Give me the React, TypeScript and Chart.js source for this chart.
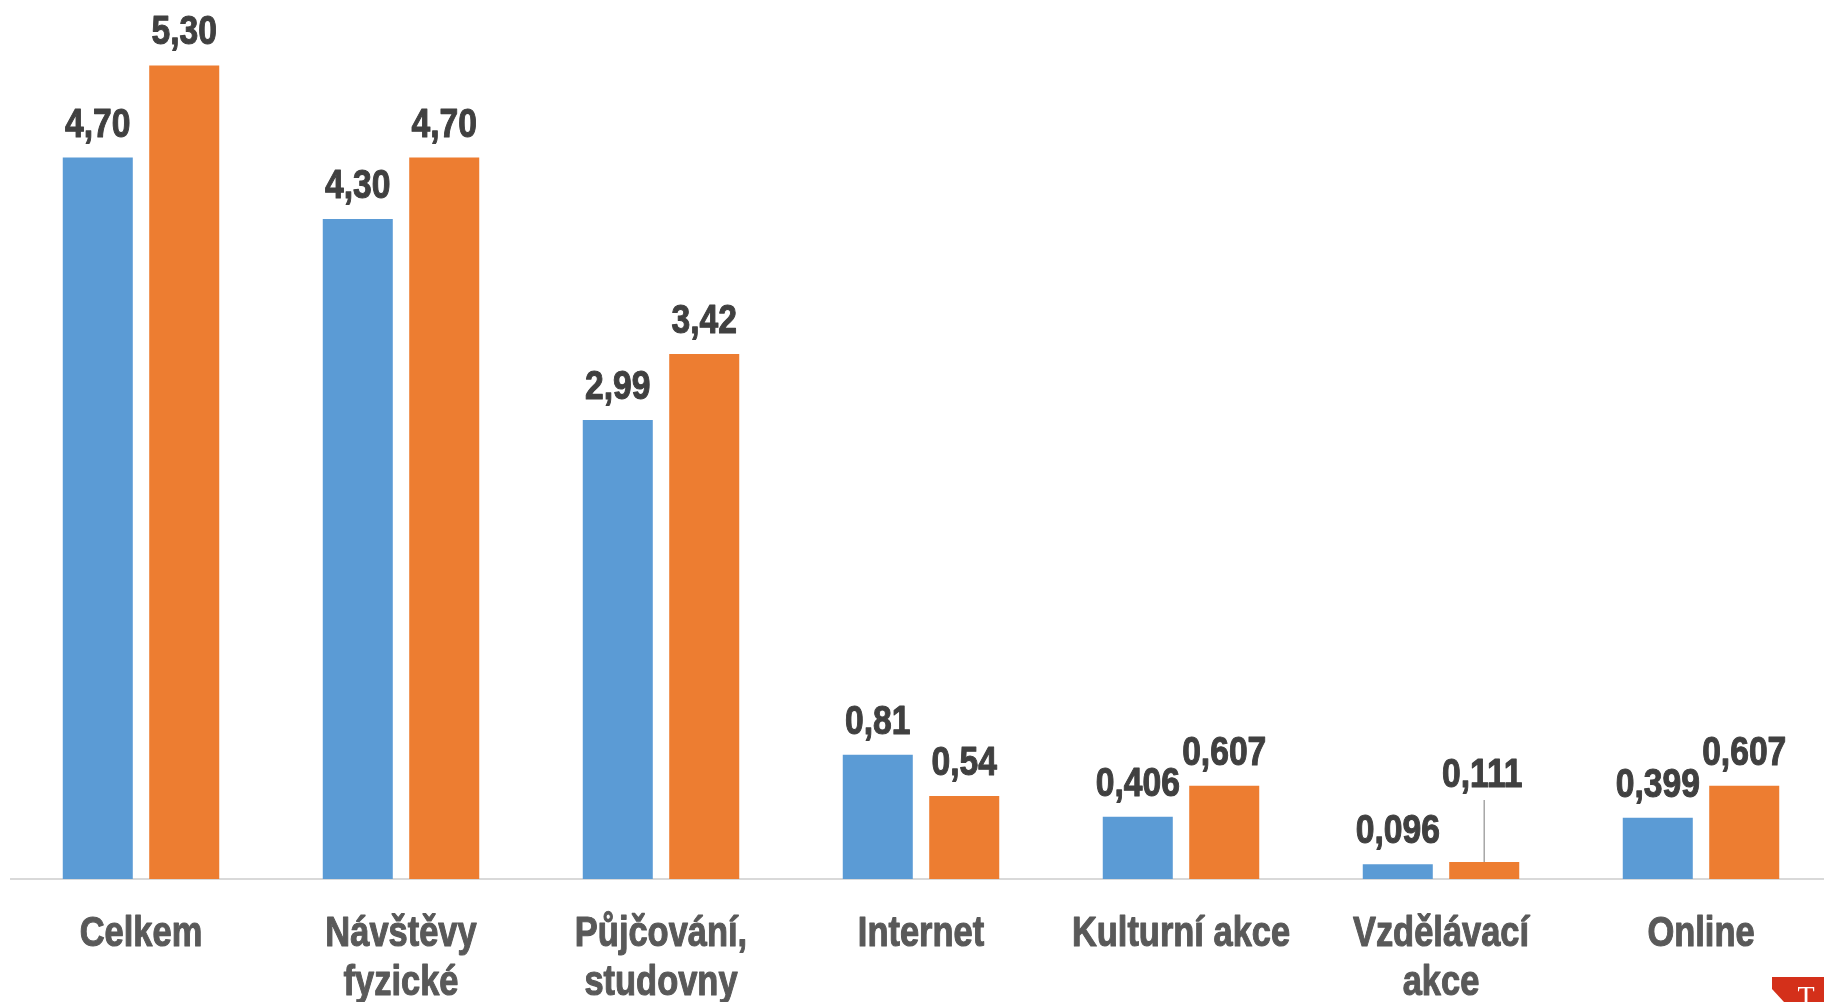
import React, { useEffect, useRef } from "react";
import { Chart, registerables } from "chart.js";

Chart.register(...registerables);

// ---- data ----
const categories: string[][] = [
  ["Celkem"],
  ["Návštěvy", "fyzické"],
  ["Půjčování,", "studovny"],
  ["Internet"],
  ["Kulturní akce"],
  ["Vzdělávací", "akce"],
  ["Online"],
];
const seriesA = [4.7, 4.3, 2.99, 0.81, 0.406, 0.096, 0.399];
const seriesB = [5.3, 4.7, 3.42, 0.54, 0.607, 0.111, 0.607];
const labelDecimals = [2, 2, 2, 2, 3, 3, 3];
const seriesNames = ["Řada 1", "Řada 2"];

// ---- style ----
const BLUE = "#5B9BD5";
const ORANGE = "#ED7D31";
const FONT = '"Liberation Sans", Arial, sans-serif';
const NARROW = 0.82; // condensed (Arial Narrow-like) horizontal scale
const CANVAS_W = 1840;
const CANVAS_H = 1002;
const AXIS_H = 123;
const PX_PER_UNIT = 153.5;

const fmt = (v: number, d: number) => v.toFixed(d).replace(".", ",");

function narrowText(ctx: CanvasRenderingContext2D, text: string, x: number, y: number) {
  ctx.save();
  ctx.translate(x, y);
  ctx.scale(NARROW, 1);
  ctx.fillText(text, 0, 0);
  ctx.lineWidth = 1.1;
  ctx.strokeStyle = ctx.fillStyle as string;
  ctx.lineJoin = "round";
  ctx.strokeText(text, 0, 0);
  ctx.restore();
}

const dataLabelPlugin = {
  id: "dataLabels",
  afterDatasetsDraw(chart: any) {
    const ctx = chart.ctx;
    ctx.save();
    ctx.font = `bold 41px ${FONT}`;
    ctx.fillStyle = "#404040";
    ctx.textAlign = "center";
    ctx.textBaseline = "alphabetic";
    chart.data.datasets.forEach((ds: any, di: number) => {
      const meta = chart.getDatasetMeta(di);
      meta.data.forEach((bar: any, i: number) => {
        const text = fmt(ds.data[i], labelDecimals[i]);
        const raised = di === 1 && i === 5;
        if (raised) {
          ctx.save();
          ctx.strokeStyle = "#A6A6A6";
          ctx.lineWidth = 1.5;
          ctx.beginPath();
          ctx.moveTo(bar.x, bar.y);
          ctx.lineTo(bar.x, bar.y - 62);
          ctx.stroke();
          ctx.restore();
          narrowText(ctx, text, bar.x - 2, bar.y - 75);
        } else {
          narrowText(ctx, text, bar.x, bar.y - 21);
        }
      });
    });
    ctx.restore();
  },
};

const categoryLabelPlugin = {
  id: "categoryLabels",
  afterDraw(chart: any) {
    const ctx = chart.ctx;
    const xs = chart.scales.x;
    const bottom = chart.chartArea.bottom;
    ctx.save();
    ctx.font = `bold 42px ${FONT}`;
    ctx.fillStyle = "#595959";
    ctx.textAlign = "center";
    ctx.textBaseline = "alphabetic";
    categories.forEach((lines, i) => {
      const x = xs.getPixelForValue(i);
      lines.forEach((line, li) => {
        narrowText(ctx, line, x, bottom + 67 + li * 49);
      });
    });
    // small red logo corner
    ctx.fillStyle = "#D4301A";
    ctx.beginPath();
    ctx.moveTo(1772, 977);
    ctx.lineTo(1824, 977);
    ctx.lineTo(1824, 1002);
    ctx.lineTo(1784, 1002);
    ctx.lineTo(1772, 989);
    ctx.closePath();
    ctx.fill();
    ctx.fillStyle = "#FFFFFF";
    ctx.font = `28px "Liberation Serif", serif`;
    ctx.textBaseline = "top";
    ctx.fillText("T", 1806, 984);
    ctx.restore();
  },
};

export default function App() {
  const ref = useRef<HTMLCanvasElement>(null);
  useEffect(() => {
    if (!ref.current) return;
    const chart = new Chart(ref.current, {
      type: "bar",
      data: {
        labels: categories.map((c) => c.join(" ")),
        datasets: [
          {
            label: seriesNames[0],
            data: seriesA,
            backgroundColor: BLUE,
            categoryPercentage: 0.665,
            barPercentage: 0.81,
          },
          {
            label: seriesNames[1],
            data: seriesB,
            backgroundColor: ORANGE,
            categoryPercentage: 0.665,
            barPercentage: 0.81,
          },
        ],
      },
      options: {
        responsive: false,
        animation: false,
        devicePixelRatio: 1,
        layout: { padding: { left: 11, right: 9, top: 0, bottom: 0 } },
        plugins: { legend: { display: false }, tooltip: { enabled: false } },
        scales: {
          x: {
            offset: true,
            grid: { display: false, drawTicks: false },
            border: { display: true, color: "#D9D9D9", width: 2 },
            ticks: { display: false },
            afterFit: (s: any) => {
              s.height = AXIS_H;
            },
          },
          y: {
            display: false,
            min: 0,
            max: (CANVAS_H - AXIS_H) / PX_PER_UNIT,
          },
        },
      },
      plugins: [dataLabelPlugin, categoryLabelPlugin],
    });
    return () => chart.destroy();
  }, []);

  return (
    <div
      style={{
        position: "fixed",
        left: 0,
        top: 0,
        width: 1824,
        height: 1002,
        overflow: "hidden",
        background: "#FFFFFF",
      }}
    >
      <canvas
        ref={ref}
        width={CANVAS_W}
        height={CANVAS_H}
        style={{ width: CANVAS_W, height: CANVAS_H, display: "block" }}
      />
    </div>
  );
}
